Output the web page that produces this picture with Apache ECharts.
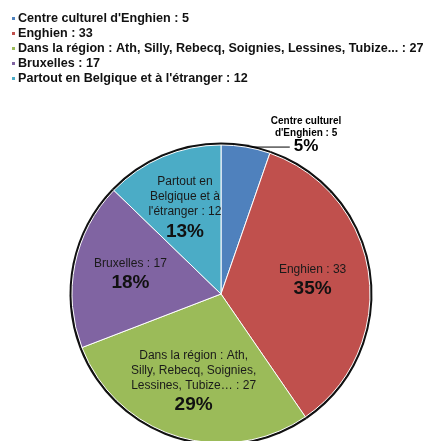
<!DOCTYPE html>
<html>
<head>
<meta charset="utf-8">
<script src="https://cdn.jsdelivr.net/npm/echarts@6/dist/echarts.min.js"></script>
<style>
  html, body { margin: 0; padding: 0; background: #fff; }
  #chart { width: 440px; height: 441px; }
</style>
</head>
<body>
<div id="chart"></div>
<script>
// données du graphique
const categories = [
  "Centre culturel d'Enghien",
  'Enghien',
  'Dans la région : Ath, Silly, Rebecq, Soignies, Lessines, Tubize...',
  'Bruxelles',
  'Partout en Belgique et à l\'étranger'
];
const values = [5, 33, 27, 17, 12];
const colors = ['#4F81BD', '#C0504D', '#9BBB59', '#8064A2', '#4BACC6'];
// textes affichés dans les parts (retours à la ligne comme dans l'original)
const sliceLabels = [
  "Centre culturel\nd'Enghien : 5",
  'Enghien : 33',
  'Dans la région : Ath,\nSilly, Rebecq, Soignies,\nLessines, Tubize… : 27',
  'Bruxelles : 17',
  'Partout en\nBelgique et à\nl\'étranger : 12'
];

const FONT = '"Liberation Sans", Arial, sans-serif';
const center = [221, 294];
const R = 149;

const chart = echarts.init(document.getElementById('chart'));

const pct = (p) => Math.round(p.percent) + '%';

const mainData = categories.map((name, i) => {
  const item = { name, value: values[i], itemStyle: { color: colors[i] } };
  if (i === 0) {
    // petite part : étiquette à l'extérieur avec un trait
    item.label = {
      show: true,
      position: 'outside',
      padding: [0, 0, 26, -24],
      formatter: (p) => sliceLabels[0].split('\n').map(s => '{t|' + s + '}').join('\n') + '\n{p|' + pct(p) + '}',
      rich: {
        t: { fontFamily: FONT, fontSize: 10, fontWeight: 'bold', color: '#000', lineHeight: 12, align: 'center' },
        p: { fontFamily: FONT, fontSize: 17, fontWeight: 'bold', color: '#000', lineHeight: 14, align: 'center' }
      }
    };
    item.labelLine = { show: true, length: 0, length2: 44, lineStyle: { color: '#000', width: 1 } };
  }
  return item;
});

// série transparente plus large : place les étiquettes vers 60 % du rayon
const labelData = categories.map((name, i) => ({
  name,
  value: values[i],
  label: { show: i !== 0 }
}));

const option = {
  animation: false,
  legend: {
    orient: 'vertical',
    left: 5,
    top: 7,
    itemWidth: 5,
    itemHeight: 5,
    itemGap: 2,
    icon: 'rect',
    selectedMode: false,
    data: categories.map(name => ({ name })),
    formatter: (name) => name + ' : ' + values[categories.indexOf(name)],
    textStyle: { fontFamily: FONT, fontSize: 12.6, fontWeight: 'bold', color: '#111', lineHeight: 12.5, padding: [0, 0, 0, -3] }
  },
  series: [
    {
      name: 'lieux',
      type: 'pie',
      center,
      radius: [0, R],
      startAngle: 90,
      clockwise: true,
      z: 2,
      avoidLabelOverlap: false,
      itemStyle: { borderColor: '#fff', borderWidth: 1 },
      label: { show: false },
      labelLine: { show: false },
      emphasis: { disabled: true },
      data: mainData
    },
    {
      name: 'contour',
      type: 'pie',
      center,
      radius: [0, R + 2.5],
      startAngle: 90,
      z: 1,
      silent: true,
      itemStyle: { color: '#111', borderWidth: 0 },
      label: { show: false },
      labelLine: { show: false },
      emphasis: { disabled: true },
      data: categories.map((name, i) => ({ name, value: values[i] }))
    },
    {
      name: 'etiquettes',
      type: 'pie',
      center,
      radius: [0, R * 1.2],
      startAngle: 90,
      z: 3,
      silent: true,
      itemStyle: { color: 'rgba(0,0,0,0)', borderWidth: 0 },
      labelLine: { show: false },
      emphasis: { disabled: true },
      label: {
        position: 'inside',
        formatter: (p) => '{t|' + sliceLabels[p.dataIndex].split('\n').join('}\n{t|') + '}\n{p|' + pct(p) + '}',
        rich: {
          t: { fontFamily: FONT, fontSize: 12, color: '#1a1a1a', lineHeight: 15, align: 'center' },
          p: { fontFamily: FONT, fontSize: 19, fontWeight: 'bold', color: '#111', lineHeight: 24, align: 'center' }
        }
      },
      data: labelData
    }
  ]
};

chart.setOption(option);
</script>
</body>
</html>
